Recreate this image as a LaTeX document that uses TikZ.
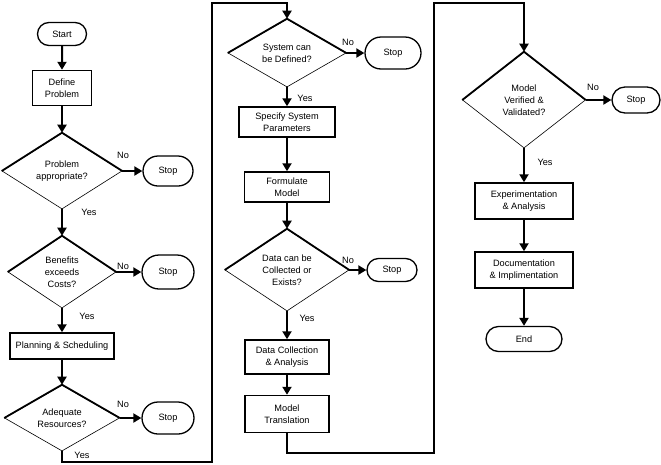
\documentclass[tikz,border=0pt]{standalone}
\usepackage{fontspec}
\setmainfont{Liberation Sans}
\usetikzlibrary{shapes.geometric,shapes.misc,arrows.meta}
\begin{document}
\begin{tikzpicture}[x=1pt,y=-1pt,
  every node/.style={font=\fontsize{9.2}{12}\selectfont, align=center},
  proc/.style={draw, rectangle, line width=1.5pt, inner sep=0pt},
  term/.style={draw, rounded rectangle, line width=1.3pt, inner sep=0pt},
  dec/.style={draw, diamond, aspect=1.6, line width=0.6pt, inner sep=0pt},
  topedge/.style={line width=1.8pt, line join=miter},
  arr/.style={line width=2pt, -{Triangle[width=9pt,length=8pt]}},
  lbl/.style={inner sep=0pt}]
\fill[white] (0,0) rectangle (661,464);
\useasboundingbox (0,0) rectangle (661,464);

% Column 1
\node[term, minimum width=49pt, minimum height=23pt] (start) at (62,34) {Start};
\node[proc, minimum width=59pt, minimum height=35pt] (define) at (62,88) {Define\\Problem};
\node[dec, minimum width=120pt, minimum height=76pt] (d1) at (62,171) {Problem\\appropriate?};
\node[term, minimum width=50pt, minimum height=30pt] (s1) at (168,171) {Stop};
\node[dec, minimum width=108pt, minimum height=72pt] (d2) at (62,272) {Benefits\\exceeds\\Costs?};
\node[term, minimum width=52pt, minimum height=34pt] (s2) at (168,272) {Stop};
\node[proc, minimum width=104pt, minimum height=26pt] (plan) at (62,346) {Planning \& Scheduling};
\node[dec, minimum width=115pt, minimum height=66pt] (d3) at (62,418) {Adequate\\Resources?};
\node[term, minimum width=52pt, minimum height=32pt] (s3) at (168,418) {Stop};

% Column 2
\node[dec, minimum width=118pt, minimum height=68pt] (d4) at (287,53) {System can\\be Defined?};
\node[term, minimum width=56pt, minimum height=32pt] (s4) at (393,53) {Stop};
\node[proc, minimum width=96pt, minimum height=30pt] (spec) at (287,122) {Specify System\\Parameters};
\node[proc, minimum width=85pt, minimum height=30pt] (form) at (287,187) {Formulate\\Model};
\node[dec, minimum width=124pt, minimum height=82pt] (d5) at (287,270) {Data can be\\Collected or\\Exists?};
\node[term, minimum width=50pt, minimum height=23pt] (s5) at (392,270) {Stop};
\node[proc, minimum width=84pt, minimum height=34pt] (dcoll) at (287,357) {Data Collection\\\& Analysis};
\node[proc, minimum width=84pt, minimum height=37pt] (trans) at (287,414) {Model\\Translation};

% Column 3
\node[dec, minimum width=123pt, minimum height=96pt] (d6) at (524,100) {Model\\Verified \&\\Validated?};
\node[term, minimum width=48pt, minimum height=26pt] (s6) at (636,100) {Stop};
\node[proc, minimum width=98pt, minimum height=36pt] (exp) at (524,201) {Experimentation\\\& Analysis};
\node[proc, minimum width=98pt, minimum height=36pt] (doc) at (524,270) {Documentation\\\& Implimentation};
\node[term, minimum width=76pt, minimum height=25pt] (end) at (524,339) {End};

% thick upper edges of decisions
\foreach \d in {d1,d2,d3,d4,d5,d6}
  \draw[topedge] (\d.west) -- (\d.north) -- (\d.east);

% Labels
\node[lbl] (no1) at (123,155) {No};
\node[lbl] (no2) at (123,266) {No};
\node[lbl] (no3) at (123,404) {No};
\node[lbl] (no4) at (348,42) {No};
\node[lbl] (no5) at (348,260) {No};
\node[lbl] (no6) at (593,87) {No};
\node[lbl] (yes1) at (89,212) {Yes};
\node[lbl] (yes2) at (87,316) {Yes};
\node[lbl] (yes3) at (82,455) {Yes};
\node[lbl] (yes4) at (305,98) {Yes};
\node[lbl] (yes5) at (307,318) {Yes};
\node[lbl] (yes6) at (545,162) {Yes};

% Coordinates for loops
\coordinate (l1b) at (212,462);
\coordinate (l1t) at (212,2.5);
\coordinate (l2b) at (434,453);
\coordinate (l2t) at (434,2.5);

% Connectors column 1
\draw[arr] (start) -- (define);
\draw[arr] (define) -- (d1.north);
\draw[arr] (d1.east) -- (s1.west);
\draw[arr] (d1.south) -- (d2.north);
\draw[arr] (d2.east) -- (s2.west);
\draw[arr] (d2.south) -- (plan.north);
\draw[arr] (plan.south) -- (d3.north);
\draw[arr] (d3.east) -- (s3.west);
\draw[arr] (d3.south) |- (l1b) -- (l1t) -| (d4.north);

% Connectors column 2
\draw[arr] (d4.east) -- (s4.west);
\draw[arr] (d4.south) -- (spec.north);
\draw[arr] (spec.south) -- (form.north);
\draw[arr] (form.south) -- (d5.north);
\draw[arr] (d5.east) -- (s5.west);
\draw[arr] (d5.south) -- (dcoll.north);
\draw[arr] (dcoll.south) -- (trans.north);
\draw[arr] (trans.south) |- (l2b) -- (l2t) -| (d6.north);

% Connectors column 3
\draw[arr] (d6.east) -- (s6.west);
\draw[arr] (d6.south) -- (exp.north);
\draw[arr] (exp.south) -- (doc.north);
\draw[arr] (doc.south) -- (end.north);
\end{tikzpicture}
\end{document}
